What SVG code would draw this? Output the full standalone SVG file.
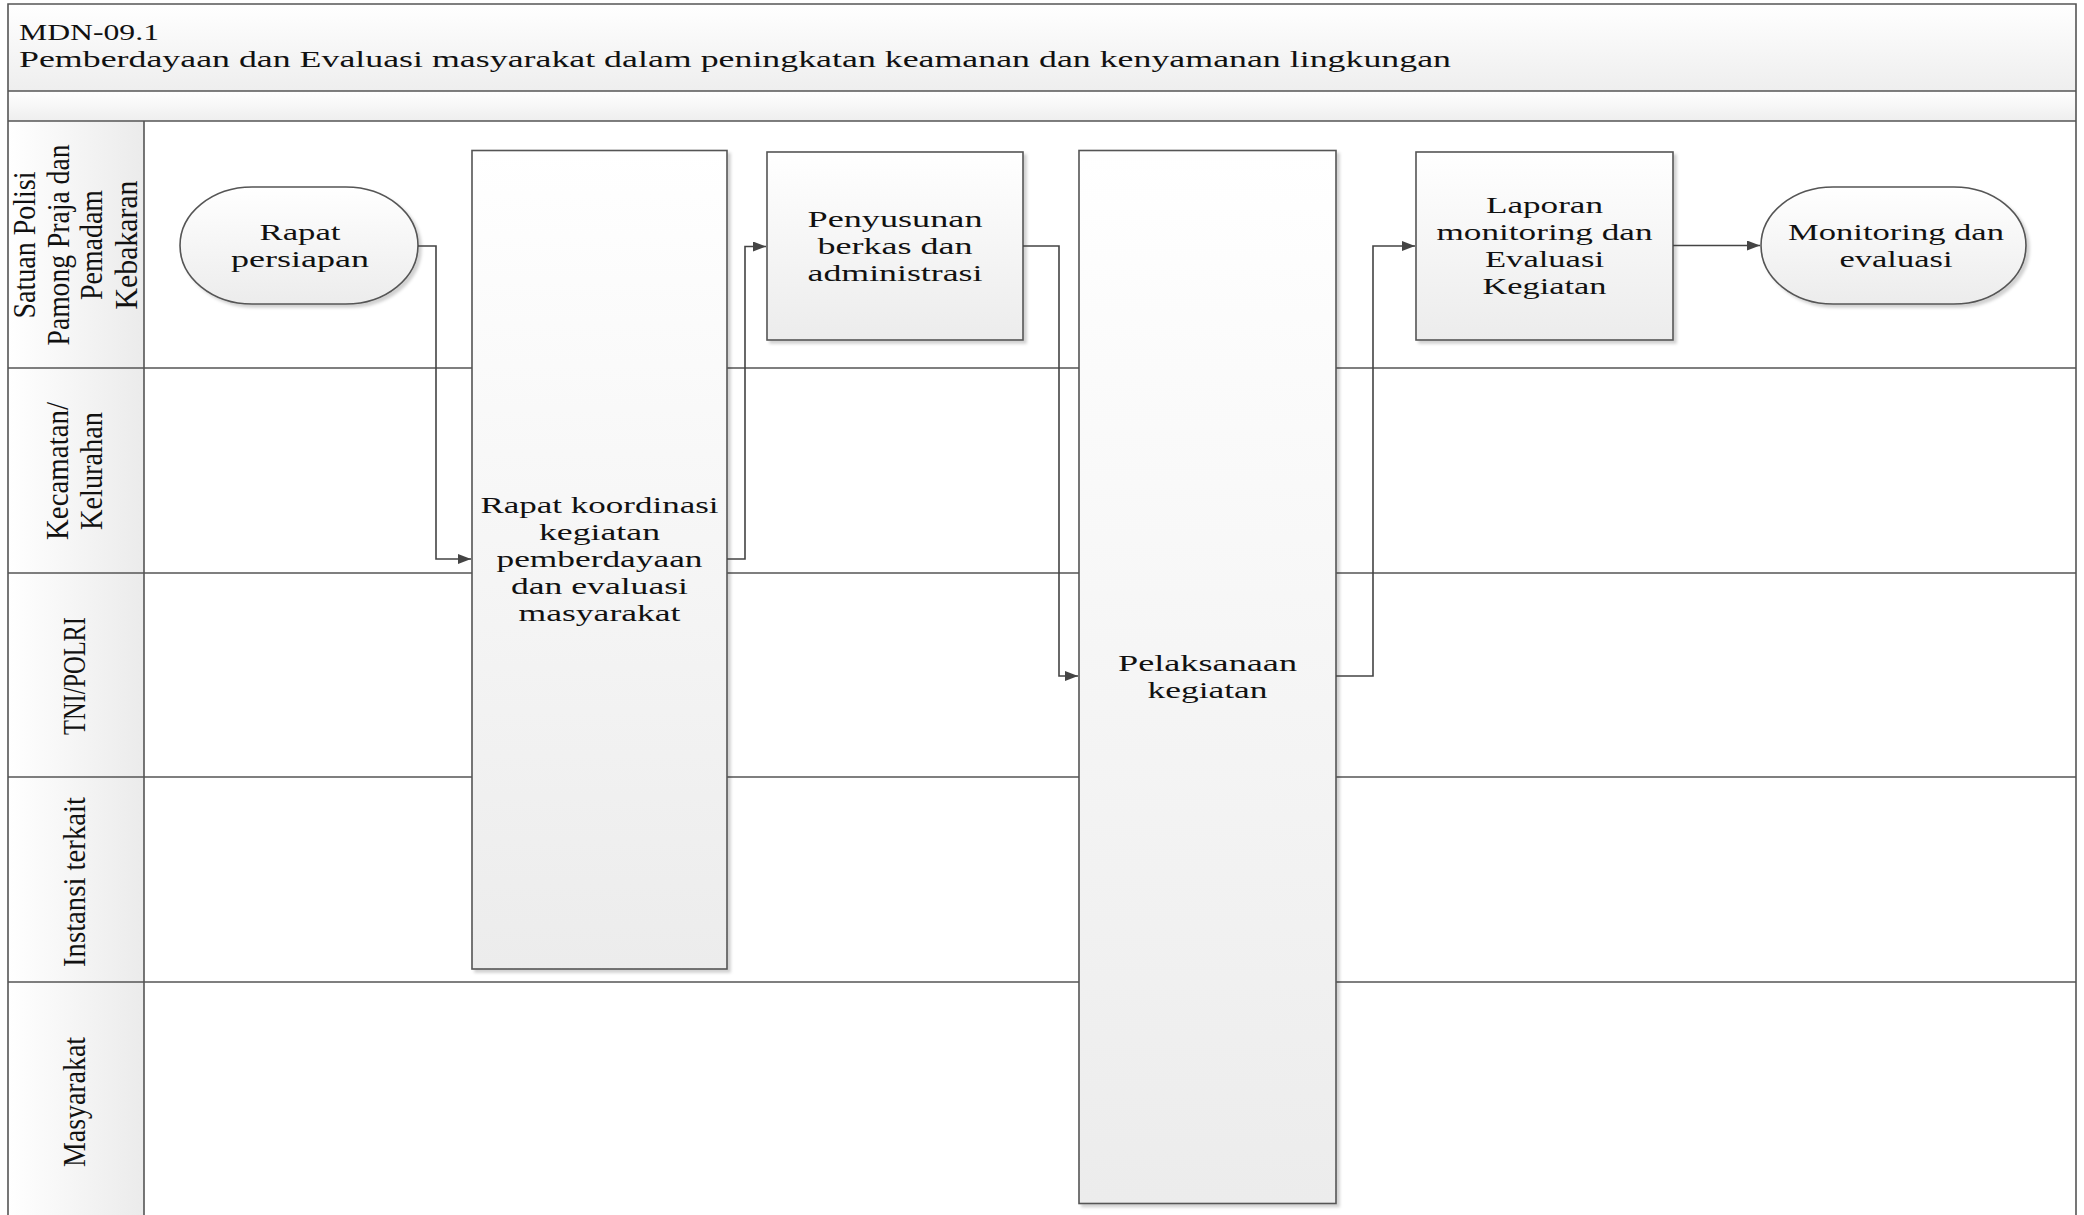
<svg xmlns="http://www.w3.org/2000/svg" width="2084" height="1215" viewBox="0 0 2084 1215">
<defs>
<linearGradient id="gBox" x1="0" y1="0" x2="0" y2="1"><stop offset="0" stop-color="#ffffff"/><stop offset="1" stop-color="#ececec"/></linearGradient>
<linearGradient id="gBand" x1="0" y1="0" x2="0" y2="1"><stop offset="0" stop-color="#ffffff"/><stop offset="1" stop-color="#eeeeee"/></linearGradient>
<linearGradient id="gLane" x1="0" y1="0" x2="1" y2="0"><stop offset="0" stop-color="#ffffff"/><stop offset="1" stop-color="#ebebeb"/></linearGradient>
<filter id="sh" x="-5%" y="-5%" width="115%" height="115%"><feDropShadow dx="3" dy="3" stdDeviation="1.5" flood-color="#000" flood-opacity="0.18"/></filter>
<marker id="arr" markerUnits="userSpaceOnUse" markerWidth="13" markerHeight="10" refX="13" refY="5" orient="auto"><path d="M0,0 L13,5 L0,10 z" fill="#444"/></marker>
</defs>
<style>
text{font-family:"Liberation Serif","Times New Roman",serif;font-size:24px;fill:#111;}
.c{text-anchor:middle;}
.box{fill:url(#gBox);stroke:#555;stroke-width:1.6;filter:url(#sh);}
.lane{stroke:#555;stroke-width:1.6;fill:none;}
.conn{stroke:#444;stroke-width:1.6;fill:none;marker-end:url(#arr);}
</style>
<rect x="0" y="0" width="2084" height="1215" fill="#ffffff"/>
<g id="pool">
<rect x="8" y="4" width="2068" height="87" fill="url(#gBand)"/>
<rect x="8" y="91" width="2068" height="30" fill="url(#gBand)"/>
<rect x="8" y="121" width="136" height="1100" fill="url(#gLane)"/>
<path class="lane" d="M8,1221 V4 H2076 V1221"/>
<path class="lane" d="M8,91 H2076 M8,121 H2076 M8,368 H2076 M8,573 H2076 M8,777 H2076 M8,982 H2076 M144,121 V1221"/>
<text x="19" y="40" textLength="140" lengthAdjust="spacingAndGlyphs">MDN-09.1</text>
<text x="19" y="67" textLength="1432" lengthAdjust="spacingAndGlyphs">Pemberdayaan dan Evaluasi masyarakat dalam peningkatan keamanan dan kenyamanan lingkungan</text>
</g>
<g id="lane-labels">
<text class="c" transform="translate(35,245) scale(1.35,1) rotate(-90)" textLength="147" lengthAdjust="spacingAndGlyphs">Satuan Polisi</text>
<text class="c" transform="translate(68.5,245) scale(1.35,1) rotate(-90)" textLength="201" lengthAdjust="spacingAndGlyphs">Pamong Praja dan</text>
<text class="c" transform="translate(102,245) scale(1.35,1) rotate(-90)" textLength="110" lengthAdjust="spacingAndGlyphs">Pemadam</text>
<text class="c" transform="translate(136.5,245) scale(1.35,1) rotate(-90)" textLength="129" lengthAdjust="spacingAndGlyphs">Kebakaran</text>
<text class="c" transform="translate(68,471) scale(1.35,1) rotate(-90)" textLength="138" lengthAdjust="spacingAndGlyphs">Kecamatan/</text>
<text class="c" transform="translate(102,471) scale(1.35,1) rotate(-90)" textLength="118" lengthAdjust="spacingAndGlyphs">Kelurahan</text>
<text class="c" transform="translate(85,676) scale(1.35,1) rotate(-90)" textLength="118" lengthAdjust="spacingAndGlyphs">TNI/POLRI</text>
<text class="c" transform="translate(85,882) scale(1.35,1) rotate(-90)" textLength="170" lengthAdjust="spacingAndGlyphs">Instansi terkait</text>
<text class="c" transform="translate(85,1102) scale(1.35,1) rotate(-90)" textLength="130" lengthAdjust="spacingAndGlyphs">Masyarakat</text>
</g>
<g id="n-rapat-persiapan">
<rect class="box" x="180" y="187" width="238" height="117" rx="72" ry="58.5"/>
<text class="c" x="300" y="239.5" textLength="81" lengthAdjust="spacingAndGlyphs">Rapat</text>
<text class="c" x="300" y="266.5" textLength="138" lengthAdjust="spacingAndGlyphs">persiapan</text>
</g>
<g id="n-rapat-koordinasi">
<rect class="box" x="472" y="150.5" width="255" height="818.5"/>
<text class="c" x="599.5" y="512.5" textLength="238" lengthAdjust="spacingAndGlyphs">Rapat koordinasi</text>
<text class="c" x="599.5" y="539.5" textLength="121" lengthAdjust="spacingAndGlyphs">kegiatan</text>
<text class="c" x="599.5" y="566.5" textLength="206" lengthAdjust="spacingAndGlyphs">pemberdayaan</text>
<text class="c" x="599.5" y="593.5" textLength="177" lengthAdjust="spacingAndGlyphs">dan evaluasi</text>
<text class="c" x="599.5" y="620.5" textLength="162" lengthAdjust="spacingAndGlyphs">masyarakat</text>
</g>
<g id="n-penyusunan">
<rect class="box" x="767" y="152" width="256" height="188"/>
<text class="c" x="895" y="227" textLength="175" lengthAdjust="spacingAndGlyphs">Penyusunan</text>
<text class="c" x="895" y="254" textLength="155" lengthAdjust="spacingAndGlyphs">berkas dan</text>
<text class="c" x="895" y="281" textLength="175" lengthAdjust="spacingAndGlyphs">administrasi</text>
</g>
<g id="n-pelaksanaan">
<rect class="box" x="1079" y="150.5" width="257" height="1053"/>
<text class="c" x="1207.5" y="670.5" textLength="179" lengthAdjust="spacingAndGlyphs">Pelaksanaan</text>
<text class="c" x="1207.5" y="697.5" textLength="120" lengthAdjust="spacingAndGlyphs">kegiatan</text>
</g>
<g id="n-laporan">
<rect class="box" x="1416" y="152" width="257" height="188"/>
<text class="c" x="1544.5" y="213" textLength="117" lengthAdjust="spacingAndGlyphs">Laporan</text>
<text class="c" x="1544.5" y="240" textLength="216" lengthAdjust="spacingAndGlyphs">monitoring dan</text>
<text class="c" x="1544.5" y="267" textLength="119" lengthAdjust="spacingAndGlyphs">Evaluasi</text>
<text class="c" x="1544.5" y="294" textLength="124" lengthAdjust="spacingAndGlyphs">Kegiatan</text>
</g>
<g id="n-monitoring">
<rect class="box" x="1761" y="187" width="265" height="117" rx="72" ry="58.5"/>
<text class="c" x="1896" y="239.5" textLength="216" lengthAdjust="spacingAndGlyphs">Monitoring dan</text>
<text class="c" x="1896" y="266.5" textLength="113" lengthAdjust="spacingAndGlyphs">evaluasi</text>
</g>
<g id="connectors">
<path class="conn" d="M418,246 H436 V559 H471"/>
<path class="conn" d="M727,559 H745 V246.5 H766"/>
<path class="conn" d="M1023,246 H1059 V676 H1078"/>
<path class="conn" d="M1336,676 H1373 V246 H1415"/>
<path class="conn" d="M1673,245.5 H1760"/>
</g>
</svg>
